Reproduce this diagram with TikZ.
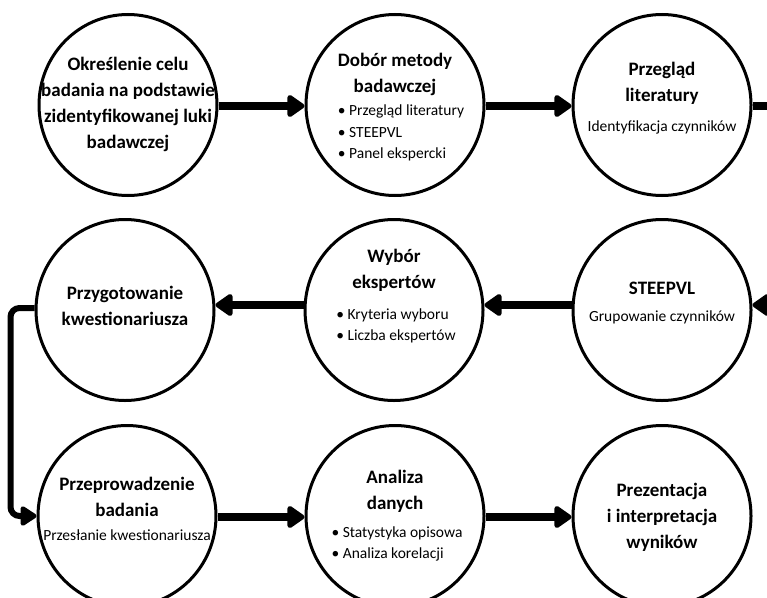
\documentclass[tikz,border=0pt]{standalone}
\usepackage{fontspec}
\setmainfont{Carlito}
\usetikzlibrary{shapes.geometric,arrows.meta}
\begin{document}
\begin{tikzpicture}[x=1pt,y=-1pt]
\tikzset{
 circ/.style={draw, line width=3pt, ellipse, minimum width=178pt, minimum height=181pt, inner sep=0pt},
 ttl/.style={font=\bfseries\fontsize{19}{26}\selectfont, align=center, inner sep=0pt},
 sub/.style={font=\fontsize{15.5}{22}\selectfont, align=center, inner sep=0pt},
 lst/.style={font=\fontsize{15.5}{21.5}\selectfont, align=left, inner sep=0pt},
 arr/.style={line width=8.5pt, -{Triangle[round,width=25pt,length=19pt]}},
 arrb/.style={line width=6pt, rounded corners=9pt, -{Triangle[round,width=22pt,length=18pt]}},
 plain/.style={line width=8.5pt},
}
\useasboundingbox (0,0) rectangle (767,597);
\clip (0,0) rectangle (767,597);
\fill[white] (0,0) rectangle (767,597);

% circles
\node[circ] (c1) at (128,105) {};
\node[circ] (c2) at (395,105) {};
\node[circ] (c3) at (662,105) {};
\node[circ] (c4) at (125,310) {};
\node[circ] (c5) at (394,310) {};
\node[circ] (c6) at (662,310) {};
\node[circ] (c7) at (127,516) {};
\node[circ] (c8) at (395,516) {};
\node[circ] (c9) at (662,516) {};

% texts
\node[ttl] (t1) at (128,104) {Określenie celu\\badania na podstawie\\zidentyfikowanej luki\\badawczej};
\node[ttl] (t2) at (395,74) {Dobór metody\\badawczej};
\node[lst] (l2) at (401,133) {\textbullet\ Przegląd literatury\\\textbullet\ STEEPVL\\\textbullet\ Panel ekspercki};
\node[ttl] (t3) at (662,83) {Przegląd\\literatury};
\node[sub] (s3) at (662,127) {Identyfikacja czynników};
\node[ttl] (t4) at (125,306) {Przygotowanie\\kwestionariusza};
\node[ttl] (t5) at (394,270) {Wybór\\ekspertów};
\node[lst] (l5) at (396,326) {\textbullet\ Kryteria wyboru\\\textbullet\ Liczba ekspertów};
\node[ttl] (t6) at (662,288) {STEEPVL};
\node[sub] (s6) at (662,317) {Grupowanie czynników};
\node[ttl] (t7) at (127,497) {Przeprowadzenie\\badania};
\node[sub] (s7) at (127,535) {Przesłanie kwestionariusza};
\node[ttl] (t8) at (395,491) {Analiza\\danych};
\node[lst] (l8) at (397,544) {\textbullet\ Statystyka opisowa\\\textbullet\ Analiza korelacji};
\node[ttl] (t9) at (662,517) {Prezentacja\\i interpretacja\\wyników};

% connectors
\coordinate (r1) at (790,106);
\coordinate (r2) at (800,305);
\draw[arr] ([yshift=-1pt]c1.east) -- ([yshift=-1pt]c2.west);
\draw[arr] ([yshift=-1pt]c2.east) -- ([yshift=-1pt]c3.west);
\draw[plain] ([yshift=-1pt]c3.east) -- (r1);
\draw[arr] (r2) -- ([yshift=5pt]c6.east);
\draw[arr] ([yshift=5pt]c6.west) -- ([yshift=5pt]c5.east);
\draw[arr] ([yshift=5pt]c5.west) -- ([yshift=5pt]c4.east);
\draw[arrb] ([yshift=2pt]c4.west) -- ++(-24,0) |- (c7.west);
\draw[arr] ([yshift=-1pt]c7.east) -- ([yshift=-1pt]c8.west);
\draw[arr] ([yshift=-1pt]c8.east) -- ([yshift=-1pt]c9.west);
\end{tikzpicture}
\end{document}
